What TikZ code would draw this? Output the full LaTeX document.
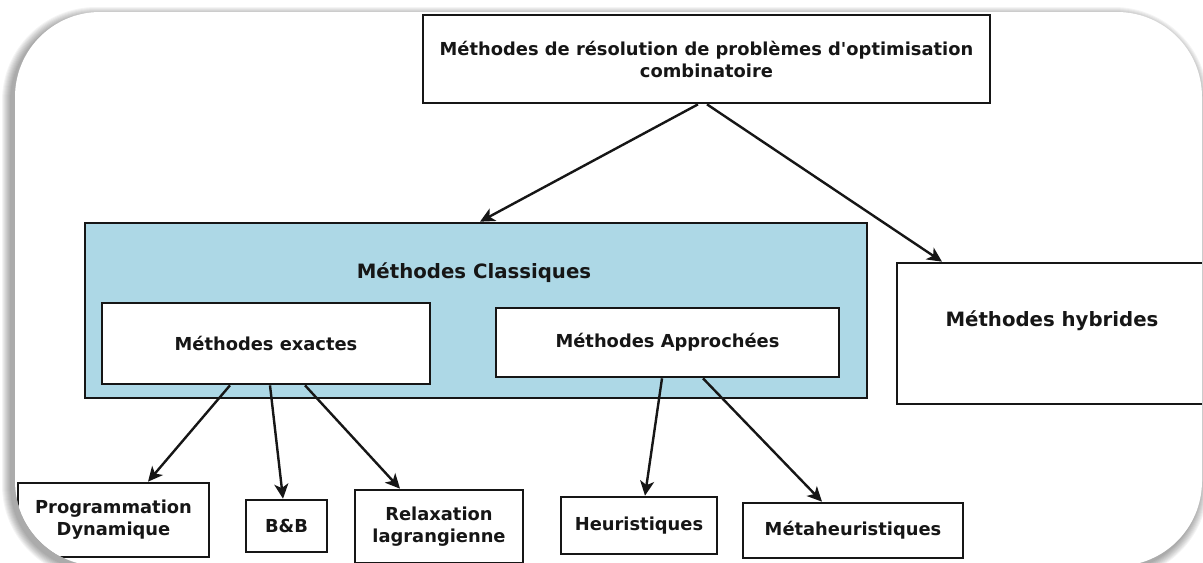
\documentclass[tikz,border=0pt]{standalone}
\usepackage{fontspec}
\setmainfont{DejaVu Sans}
\usetikzlibrary{arrows.meta,calc}
\definecolor{classic}{RGB}{173,216,230}
\definecolor{ink}{RGB}{22,22,22}
\begin{document}
\begin{tikzpicture}[x=0.75pt,y=-0.75pt,
  txt/.style={inner sep=0pt, align=center, text=ink,
    font=\bfseries\fontsize{13.4}{16.5}\selectfont},
  bigtxt/.style={txt, font=\bfseries\fontsize{14.8}{18}\selectfont},
  box/.style={txt, draw=ink, line width=2pt, fill=white},
  link/.style={draw=ink, line width=1.8pt,
    -{Stealth[length=11pt,width=10.5pt,inset=3pt]}}]
\useasboundingbox (0,0) rectangle (1203,562);
\clip (0,0) rectangle (1203,562);

% soft shadow around the rounded frame
\foreach \i in {1,...,9}{
  \pgfmathsetmacro\rr{63.75+0.75*\i}
  \fill[black, opacity=0.045, rounded corners=\rr pt]
    ({15-\i-4},{12-\i+4}) rectangle ({1202+\i-3},{566+\i+4});
}
\fill[white, rounded corners=63.75pt] (15,12) rectangle (1202,566);

\begin{scope}
\clip[rounded corners=63.75pt] (15,12) rectangle (1202,566);

% root
\node[box, minimum width=425.25pt, minimum height=66pt] (root) at (706.5,59)
  {Méthodes de résolution de problèmes d\textquotesingle optimisation\\combinatoire};

% classical methods group
\node[box, fill=classic, minimum width=586.5pt, minimum height=131.25pt] (classic) at (476,310.5) {};
\node[bigtxt] (classiclbl) at (474,273) {Méthodes Classiques};
\node[box, minimum width=246pt, minimum height=60.75pt] (exact) at (266,343.5) {Méthodes exactes};
\node[box, minimum width=257.25pt, minimum height=51.75pt] (approx) at (667.5,342.5) {Méthodes Approchées};

% hybrid methods
\node[box, minimum width=231pt, minimum height=105.75pt] (hybrid) at (1051,333.5) {};
\node[bigtxt] (hybridlbl) at (1052,321) {Méthodes hybrides};

% leaves
\node[box, minimum width=143.25pt, minimum height=55.5pt] (dyn) at (113.5,520) {Programmation\\Dynamique};
\node[box, minimum width=60.75pt, minimum height=39pt] (bb) at (286.5,526) {B\&B};
\node[box, minimum width=126pt, minimum height=54.75pt] (relax) at (439,526.5) {Relaxation\\lagrangienne};
\node[box, minimum width=117pt, minimum height=42.75pt] (heur) at (639,525.5) {Heuristiques};
\node[box, minimum width=165pt, minimum height=41.25pt] (meta) at (853,530.5) {Métaheuristiques};

% connectors
\draw[link] ($(root.south)+(-8.5,0)$) -- ($(classic.north)+(4,0)$);
\draw[link] ($(root.south)+(0.5,0)$) -- ($(hybrid.north)+(-109,0)$);
\draw[link] ($(exact.south)+(-36,0)$) -- ($(dyn.north)+(34.5,0)$);
\draw[link] ($(exact.south)+(4,0)$) -- ($(bb.north)+(-3.5,0)$);
\draw[link] ($(exact.south)+(39,0)$) -- ($(relax.north)+(-39,0)$);
\draw[link] ($(approx.south)+(-5.5,0)$) -- ($(heur.north)+(6,0)$);
\draw[link] ($(approx.south)+(35.5,0)$) -- ($(meta.north)+(-31,0)$);
\end{scope}
\end{tikzpicture}
\end{document}
